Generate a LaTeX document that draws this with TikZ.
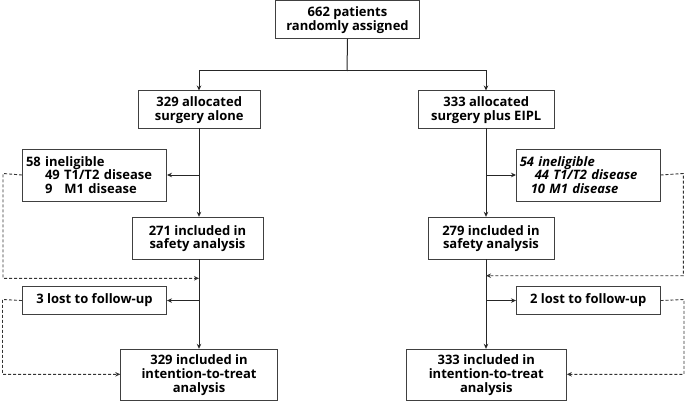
\documentclass[tikz,border=0pt]{standalone}
\usepackage{fontspec}
\setmainfont{Open Sans}
\usetikzlibrary{arrows.meta}
\tikzset{
  box/.style={draw=black!75, line width=1pt, anchor=north west, inner sep=0pt,
     font=\bfseries\fontsize{13}{13.8}\selectfont, align=center},
  conn/.style={line width=1pt, draw=black!85, -{Stealth[length=5pt,width=4.5pt]}},
  dconn/.style={line width=0.9pt, draw=black!80, dash pattern=on 3pt off 2pt, -{Stealth[length=5pt,width=4.5pt]}},
  plain/.style={line width=1pt, draw=black!85}
}
\begin{document}
\begin{tikzpicture}[x=1pt,y=-1pt]
\useasboundingbox (0,0) rectangle (685,401);
% boxes
\node[box, minimum width=144pt, minimum height=37.5pt] (top) at (275,0.5) {662 patients\\randomly assigned};
\node[box, minimum width=121.5pt, minimum height=37.5pt] (allocL) at (138,90.5) {329 allocated\\surgery alone};
\node[box, minimum width=135.5pt, minimum height=37.5pt] (allocR) at (418,90.5) {333 allocated\\surgery plus EIPL};
\node[box, minimum width=144pt, minimum height=52pt, align=left, text width=137pt] (inelL) at (22,148.5)
  {58 ineligible\\\hspace*{19pt}49 T1/T2 disease\\\hspace*{19pt}9\hspace*{12pt}M1 disease};
\node[box, minimum width=143.5pt, minimum height=52pt, align=left, text width=137pt, font=\bfseries\itshape\fontsize{13}{13.8}\selectfont] (inelR) at (516,148.5)
  {54 ineligible\\\hspace*{15pt}44 T1/T2 disease\\\hspace*{11pt}10 M1 disease};
\node[box, minimum width=131pt, minimum height=42.5pt] (safeL) at (131.5,216.8) {271 included in\\safety analysis};
\node[box, minimum width=126pt, minimum height=42.5pt] (safeR) at (427.5,216.8) {279 included in\\safety analysis};
\node[box, minimum width=144pt, minimum height=28.5pt] (lostL) at (22,285.8) {3 lost to follow-up};
\node[box, minimum width=143.5pt, minimum height=28.5pt] (lostR) at (516,285.8) {2 lost to follow-up};
\node[box, minimum width=156.5pt, minimum height=51.5pt] (ittL) at (120.3,348.8) {329 included in\\intention-to-treat\\analysis};
\node[box, minimum width=160pt, minimum height=51.5pt] (ittR) at (405.8,348.8) {333 included in\\intention-to-treat\\analysis};
% coordinates
\coordinate (split) at (347,71);
\coordinate (vL1) at (199,128);
\coordinate (vR1) at (486,128);
\coordinate (vL2) at (199,259.3);
\coordinate (vR2) at (486,259.3);
\coordinate (dL1) at (3,173.5);
\coordinate (dL2) at (2.5,299.5);
\coordinate (dR1) at (683.3,173.5);
\coordinate (dR2) at (684,299.5);
% top split
\draw[plain] (top.south) -- (split);
\draw[conn] (split) -| (vL1 |- allocL.north);
\draw[conn] (split) -| (vR1 |- allocR.north);
% left column
\draw[conn] (vL1) -- (vL1 |- safeL.north);
\draw[conn] (vL1 |- inelL.east) -- (inelL.east);
\draw[conn] (vL2) -- (vL2 |- ittL.north);
\draw[conn] (vL2 |- lostL.east) -- (lostL.east);
\draw[dconn] (inelL.west) -- (dL1) |- (vL2 |- 0,278.3);
\draw[dconn] (lostL.west) -- (dL2) |- (ittL.west |- 0,374.3);
% right column
\draw[conn] (vR1) -- (vR1 |- safeR.north);
\draw[conn] (vR1 |- inelR.west) -- (inelR.west);
\draw[conn] (vR2) -- (vR2 |- ittR.north);
\draw[conn] (vR2 |- lostR.west) -- (lostR.west);
\draw[dconn] (inelR.east) -- (dR1) |- (vR2 |- 0,275.7);
\draw[dconn] (lostR.east) -- (dR2) |- (ittR.east |- 0,374.3);
\end{tikzpicture}
\end{document}
